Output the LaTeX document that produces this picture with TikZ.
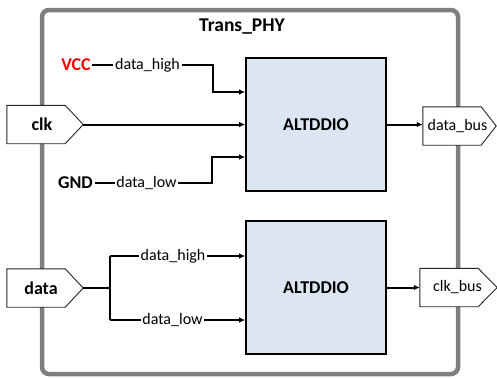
\documentclass[tikz,border=0pt]{standalone}
\usepackage{fontspec}
\setmainfont{Carlito}
\usetikzlibrary{arrows.meta,calc}
\definecolor{boxfill}{HTML}{DCE6F2}
\definecolor{framegray}{HTML}{7F7F7F}
\begin{document}
\begin{tikzpicture}[x=1pt,y=-1pt,
  frame/.style={draw=framegray,line width=4.5pt,rounded corners=7pt},
  ddio/.style={draw=black,fill=boxfill,line width=1.6pt,minimum width=140pt,minimum height=133pt,font=\fontsize{18}{20}\selectfont\bfseries},
  port/.style={inner sep=0pt,minimum height=38pt},
  portline/.style={draw=black!85,fill=white,line width=0.9pt},
  lbl/.style={inner sep=1.5pt,font=\fontsize{16}{18}\selectfont},
  blbl/.style={inner sep=1.5pt,font=\fontsize{18}{20}\selectfont\bfseries},
  conn/.style={line width=2pt,draw=black},
  arr/.style={conn,-{Latex[length=6pt,width=5.5pt]}}
]
\useasboundingbox (0,0) rectangle (497,378);
% frame
\draw[frame] (42,10) rectangle (458,374);
\node[font=\fontsize{19.5}{22}\selectfont\bfseries] (title) at (242,27) {Trans\_PHY};
% boxes
\node[ddio] (alt1) at (316,124.5) {ALTDDIO};
\node[ddio] (alt2) at (316,287.5) {ALTDDIO};
% ports
\node[port,minimum width=76pt] (clk) at (45,124.5) {};
\node[port,minimum width=76pt] (data) at (45,288) {};
\node[port,minimum width=73pt] (dbus) at (459.5,126) {};
\node[port,minimum width=77pt] (cbus) at (458.5,287.5) {};
\draw[portline] (clk.north west) -- ([xshift=-18pt]clk.north east) -- (clk.east) -- ([xshift=-18pt]clk.south east) -- (clk.south west) -- cycle;
\draw[portline] (data.north west) -- ([xshift=-18pt]data.north east) -- (data.east) -- ([xshift=-18pt]data.south east) -- (data.south west) -- cycle;
\draw[portline] (dbus.north west) -- ([xshift=-15pt]dbus.north east) -- (dbus.east) -- ([xshift=-15pt]dbus.south east) -- (dbus.south west) -- cycle;
\draw[portline] (cbus.north west) -- ([xshift=-19pt]cbus.north east) -- (cbus.east) -- ([xshift=-19pt]cbus.south east) -- (cbus.south west) -- cycle;
\node[blbl] (clkt) at ([xshift=-3pt]clk.center) {clk};
\node[blbl] (datat) at ([xshift=-4pt]data.center) {data};
\node[lbl] (dbust) at ([xshift=-2pt]dbus.center) {data\_bus};
\node[lbl] (cbust) at ([xshift=-1pt]cbus.center) {clk\_bus};
% top inputs
\node[blbl,text=red] (vcc) at (76,65) {VCC};
\node[lbl] (dh1) at (147.5,65) {data\_high};
\node[blbl] (gnd) at (75.5,183) {GND};
\node[lbl] (dl1) at (146.5,183) {data\_low};
\coordinate (j1) at (213,65);
\coordinate (j2) at (212,183);
\draw[conn] (vcc.east) -- (dh1.west);
\draw[conn] (gnd.east) -- (dl1.west);
\draw[arr] (dh1.east) -- (j1) |- ([yshift=32.5pt]alt1.west);
\draw[arr] (dl1.east) -- (j2) |- ([yshift=-32.5pt]alt1.west);
\draw[arr] (clk.east) -- (clk.east -| alt1.west);
\draw[arr] (alt1.east) -- (dbus.west |- alt1.east);
% bottom inputs
\coordinate (j3) at (110,288);
\node[lbl] (dh2) at (173,256) {data\_high};
\node[lbl] (dl2) at (172.5,320) {data\_low};
\draw[conn] (data.east) -- (j3);
\draw[conn] (j3 |- dh2) -- (j3 |- dl2);
\draw[conn] (j3 |- dh2) -- (dh2.west);
\draw[conn] (j3 |- dl2) -- (dl2.west);
\draw[arr] (dh2.east) -- (dh2.east -| alt2.west);
\draw[arr] (dl2.east) -- (dl2.east -| alt2.west);
\draw[arr] (alt2.east) -- (cbus.west |- alt2.east);
\end{tikzpicture}
\end{document}
